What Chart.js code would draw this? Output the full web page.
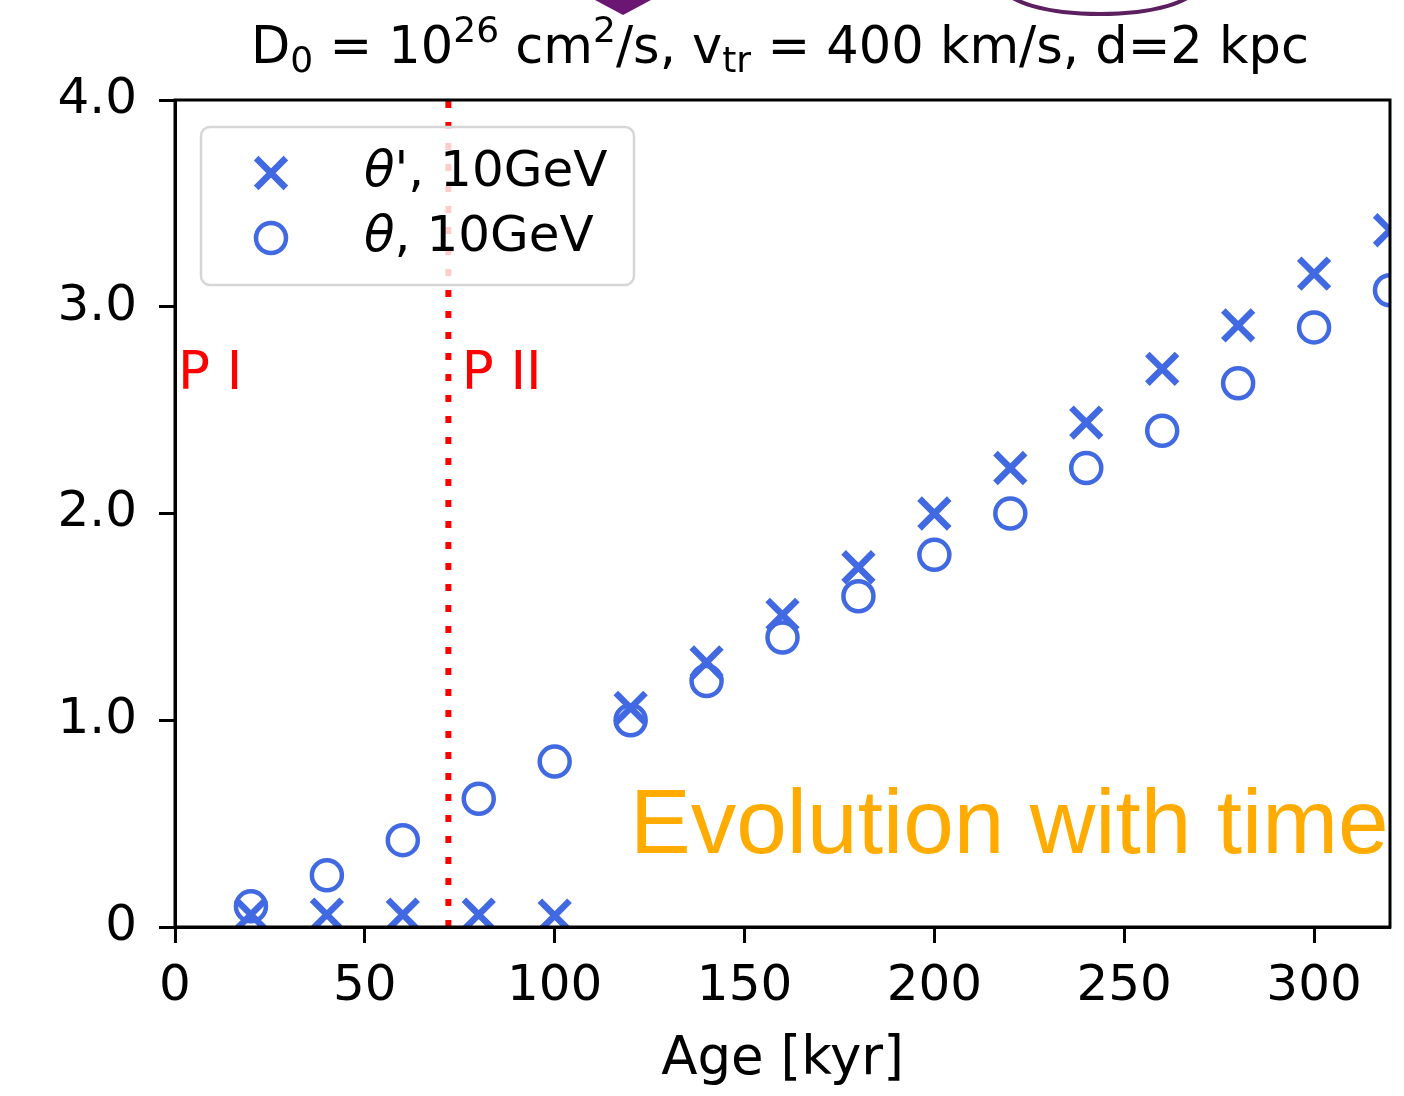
<!DOCTYPE html>
<html>
<head>
<meta charset="utf-8">
<script src="https://cdn.jsdelivr.net/npm/chart.js@4.4.2/dist/chart.umd.min.js"></script>
<style>
  html, body { margin: 0; padding: 0; background: #ffffff; }
  #wrap { width: 1404px; height: 1096px; }
</style>
</head>
<body>
<div id="wrap"><canvas id="ageChart" width="1404" height="1096"></canvas></div>
<script>
// Ages of the simulated snapshots [kyr]
const ages = [20, 40, 60, 80, 100, 120, 140, 160, 180, 200, 220, 240, 260, 280, 300, 320];
// theta' at 10 GeV (crosses)
const thetaPrime = [0.06, 0.06, 0.06, 0.06, 0.055, 1.06, 1.28, 1.51, 1.74, 2.0, 2.22, 2.44, 2.70, 2.91, 3.16, 3.37];
// theta at 10 GeV (open circles)
const theta = [0.10, 0.25, 0.42, 0.62, 0.80, 1.0, 1.19, 1.40, 1.60, 1.80, 2.0, 2.22, 2.40, 2.63, 2.90, 3.08];
// phase boundary (dotted red line)
const phaseBoundary = 72;
const xTicks = [0, 50, 100, 150, 200, 250, 300];
const yTicks = [0, 1, 2, 3, 4];
const seriesLabels = ["θ'", "θ"];

const BLUE = "#4169e1";
const FONT = "'DejaVu Sans', sans-serif";

// title with sub/superscripts, drawn piece by piece
const titleParts = [
    { t: "D" }, { t: "0", sub: true }, { t: " = 10" }, { t: "26", sup: true },
    { t: " cm" }, { t: "2", sup: true }, { t: "/s, v" }, { t: "tr", sub: true },
    { t: " = 400 km/s, d=2 kpc" }
];

const titlePlugin = {
    id: "mathTitle",
    afterDraw(chart) {
        const ctx = chart.ctx;
        const size = 51, small = 36;
        ctx.save();
        ctx.fillStyle = "#000";
        ctx.textBaseline = "alphabetic";
        ctx.textAlign = "left";
        let total = 0;
        titleParts.forEach(p => {
            ctx.font = `${(p.sub || p.sup) ? small : size}px ${FONT}`;
            total += ctx.measureText(p.t).width;
        });
        let x = 780 - total / 2;
        const base = 63;
        titleParts.forEach(p => {
            ctx.font = `${(p.sub || p.sup) ? small : size}px ${FONT}`;
            let y = base;
            if (p.sub) y += 9;
            if (p.sup) y -= 21;
            ctx.fillText(p.t, x, y);
            x += ctx.measureText(p.t).width;
        });
        ctx.restore();
    }
};

// draw a marker like matplotlib's 'x' / 'o'
function drawMarker(ctx, kind, x, y) {
    ctx.save();
    ctx.strokeStyle = BLUE;
    if (kind === "x") {
        const d = 21 * Math.SQRT1_2;
        ctx.lineWidth = 6.5;
        ctx.beginPath();
        ctx.moveTo(x - d, y - d); ctx.lineTo(x + d, y + d);
        ctx.moveTo(x - d, y + d); ctx.lineTo(x + d, y - d);
        ctx.stroke();
    } else {
        ctx.lineWidth = 4.5;
        ctx.beginPath();
        ctx.arc(x, y, 15, 0, Math.PI * 2);
        ctx.stroke();
    }
    ctx.restore();
}

const legendPlugin = {
    id: "boxLegend",
    afterDraw(chart) {
        const ctx = chart.ctx;
        ctx.save();
        // legend frame
        const bx = 201, by = 127, bw = 433, bh = 158, r = 9;
        ctx.beginPath();
        ctx.moveTo(bx + r, by);
        ctx.arcTo(bx + bw, by, bx + bw, by + bh, r);
        ctx.arcTo(bx + bw, by + bh, bx, by + bh, r);
        ctx.arcTo(bx, by + bh, bx, by, r);
        ctx.arcTo(bx, by, bx + bw, by, r);
        ctx.closePath();
        ctx.fillStyle = "rgba(255,255,255,0.8)";
        ctx.fill();
        ctx.strokeStyle = "#d6d6d6";
        ctx.lineWidth = 2.5;
        ctx.stroke();

        const rows = [
            { kind: "x", sym: "θ", rest: "', 10GeV", y: 173 },
            { kind: "o", sym: "θ", rest: ", 10GeV", y: 238 }
        ];
        rows.forEach(row => {
            drawMarker(ctx, row.kind, 271, row.y);
            ctx.fillStyle = "#000";
            ctx.textBaseline = "middle";
            ctx.font = `oblique 50px ${FONT}`;
            let x = 364;
            ctx.fillText(row.sym, x, row.y);
            x += ctx.measureText(row.sym).width;
            ctx.font = `50px ${FONT}`;
            ctx.fillText(row.rest, x, row.y);
        });
        ctx.restore();
    }
};

// frame, phase labels and slide overlays
const decorPlugin = {
    id: "decor",
    afterDatasetsDraw(chart) {
        const { ctx, chartArea: a, scales } = chart;
        ctx.save();
        ctx.strokeStyle = "#000";
        ctx.lineWidth = 3;
        ctx.strokeRect(a.left, a.top, a.right - a.left, a.bottom - a.top);

        ctx.fillStyle = "#ff0000";
        ctx.font = `53px ${FONT}`;
        ctx.textBaseline = "alphabetic";
        ctx.fillText("P I", scales.x.getPixelForValue(0.8), scales.y.getPixelForValue(2.6));
        ctx.fillText("P II", scales.x.getPixelForValue(75.5), scales.y.getPixelForValue(2.6));
        ctx.restore();
    },
    afterDraw(chart) {
        const ctx = chart.ctx;
        ctx.save();
        ctx.fillStyle = "#ffab00";
        ctx.font = "91px 'Liberation Sans', Arial, sans-serif";
        ctx.textBaseline = "alphabetic";
        ctx.fillText("Evolution with time", 630, 853);
        ctx.fillText("n", -45, 590);

        // bits of neighbouring slide graphics
        ctx.fillStyle = "#6c1674";
        ctx.beginPath();
        ctx.moveTo(595, 0); ctx.lineTo(651, 0); ctx.lineTo(623, 15);
        ctx.closePath();
        ctx.fill();
        ctx.strokeStyle = "#5c1f60";
        ctx.lineWidth = 4;
        ctx.beginPath();
        ctx.ellipse(1100, -14, 96, 28, 0, 0, Math.PI);
        ctx.stroke();
        ctx.restore();
    }
};

const axisCommon = {
    grid: { drawOnChartArea: false, drawTicks: true, tickLength: 16, tickWidth: 3, tickColor: "#000" },
    border: { display: true, color: "#000", width: 3 }
};

new Chart(document.getElementById("ageChart"), {
    type: "scatter",
    data: {
        datasets: [
            {
                label: seriesLabels[0],
                data: ages.map((a, i) => ({ x: a, y: thetaPrime[i] })),
                pointStyle: "crossRot",
                radius: 21,
                borderWidth: 6.5,
                borderColor: BLUE,
                backgroundColor: BLUE,
                clip: 0
            },
            {
                label: seriesLabels[1],
                data: ages.map((a, i) => ({ x: a, y: theta[i] })),
                pointStyle: "circle",
                radius: 15,
                borderWidth: 4.5,
                borderColor: BLUE,
                backgroundColor: "rgba(0,0,0,0)",
                clip: 0
            },
            {
                label: "phase",
                data: [{ x: phaseBoundary, y: yTicks[0] }, { x: phaseBoundary, y: yTicks[yTicks.length - 1] }],
                showLine: true,
                borderColor: "#ff0000",
                borderWidth: 6,
                borderDash: [7, 14],
                pointRadius: 0,
                clip: 0
            }
        ]
    },
    options: {
        responsive: false,
        animation: false,
        events: [],
        layout: { autoPadding: false, padding: { top: 100, right: 14, left: 0, bottom: 0 } },
        plugins: { legend: { display: false }, tooltip: { enabled: false }, title: { display: false } },
        scales: {
            x: {
                ...axisCommon,
                min: 0, max: 320,
                afterBuildTicks: s => { s.ticks = xTicks.map(v => ({ value: v })); },
                afterFit: s => { s.height = 169; s.paddingLeft = 0; s.paddingRight = 0; },
                ticks: { color: "#000", font: { family: FONT, size: 50 }, padding: 14, maxRotation: 0 },
                title: { display: true, text: "Age [kyr]", color: "#000", font: { family: FONT, size: 53 }, padding: { top: 0, bottom: 4 } }
            },
            y: {
                ...axisCommon,
                min: 0, max: 4,
                afterBuildTicks: s => { s.ticks = yTicks.map(v => ({ value: v })); },
                afterFit: s => { s.width = 175; s.paddingTop = 0; s.paddingBottom = 0; },
                ticks: {
                    color: "#000", font: { family: FONT, size: 50 }, padding: 22,
                    callback: v => v === 0 ? "0" : v.toFixed(1)
                }
            }
        }
    },
    plugins: [decorPlugin, titlePlugin, legendPlugin]
});
</script>
</body>
</html>
